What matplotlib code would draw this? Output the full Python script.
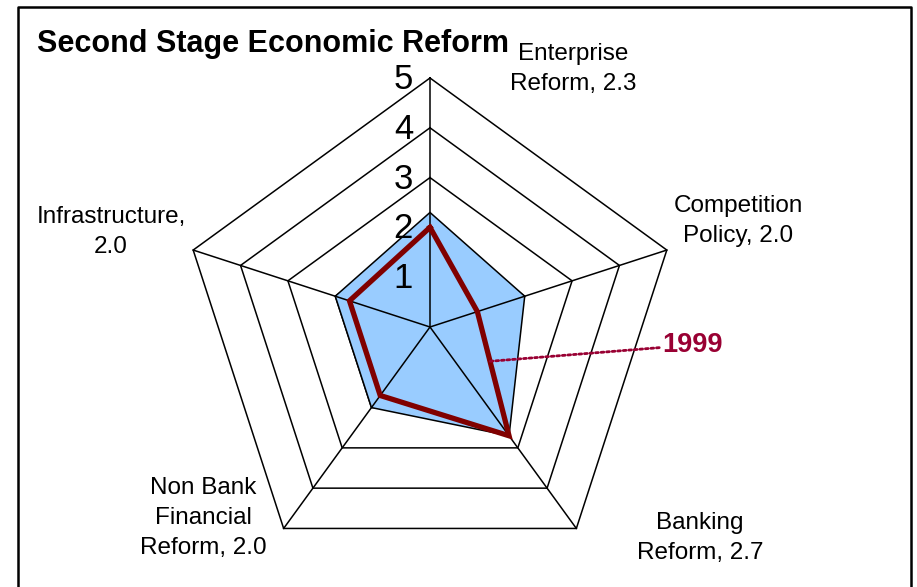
import numpy as np
import matplotlib
matplotlib.use("Agg")
import matplotlib.pyplot as plt
from matplotlib.lines import Line2D

plt.rcParams['font.family'] = ['Liberation Sans', 'DejaVu Sans']

# data
categories = ['Enterprise\nReform, 2.3', 'Competition\nPolicy, 2.0', 'Banking\nReform, 2.7',
              'Non Bank\nFinancial\nReform, 2.0', 'Infrastructure,\n2.0']
current = [2.3, 2.0, 2.7, 2.0, 2.0]
y1999 = [2.0, 1.0, 2.7, 1.7, 1.7]
levels = [1, 2, 3, 4, 5]

W, H = 917, 587
cx, cy = 430, 327          # centre of the web in pixels
ppu = 249 / 5              # pixels per unit

fig = plt.figure(figsize=(W / 100, H / 100), dpi=100)
ax = fig.add_axes([0, 0, 1, 1])
ax.set_xlim(-cx / ppu, (W - cx) / ppu)
ax.set_ylim(-(H - cy) / ppu, cy / ppu)
ax.axis('off')

ang = np.deg2rad(90 - 72 * np.arange(len(categories)))


def xy(vals):
    v = np.asarray(vals, float)
    x = v * np.cos(ang)
    y = v * np.sin(ang)
    return np.append(x, x[0]), np.append(y, y[0])


# grid
for lv in levels:
    gx, gy = xy([lv] * 5)
    ax.plot(gx, gy, color='black', lw=1.1, zorder=1)
for a in ang:
    ax.plot([0, 5 * np.cos(a)], [0, 5 * np.sin(a)], color='black', lw=1.1, zorder=3)

# series
bx, by = xy(current)
ax.fill(bx, by, facecolor='#99CCFF', edgecolor='black', lw=1.1, zorder=2)
rx, ry = xy(y1999)
ax.plot(rx, ry, color='#800000', lw=3.8, solid_joinstyle='miter', zorder=4)

# radial tick labels
for lv in levels:
    ax.text(-0.34, lv - 0.03, str(lv), ha='right', va='center', fontsize=25, zorder=5)

# category labels
lab_pos = [(573, 69), (738, 221), (700, 538), (203, 518), (111, 232)]
for lab, (px, py) in zip(categories, lab_pos):
    fig.text(px / W, 1 - py / H, lab, ha='center', va='center', fontsize=17.5,
             linespacing=1.45)

# 1999 callout
t = 0.4
p0 = (rx[1] + t * (rx[2] - rx[1]), ry[1] + t * (ry[2] - ry[1]))
ax.annotate('1999', xy=p0, xytext=((662 - cx) / ppu, (cy - 345) / ppu),
            ha='left', va='center', fontsize=19.5, fontweight='bold', color='#990033',
            arrowprops=dict(arrowstyle='-', linestyle=(0, (1, 1)), color='#990033', lw=2,
                            shrinkA=0, shrinkB=0), zorder=6)

# title
fig.text(37 / W, 1 - 44 / H, 'Second Stage Economic Reform', ha='left', va='center',
         fontsize=22, fontweight='bold')

# chart border
fig.add_artist(Line2D([18 / W, 18 / W, 911 / W, 911 / W], [-0.1, 1 - 7 / H, 1 - 7 / H, -0.1],
                      transform=fig.transFigure, color='black', lw=1.8))

fig.savefig('out.png', dpi=100)
